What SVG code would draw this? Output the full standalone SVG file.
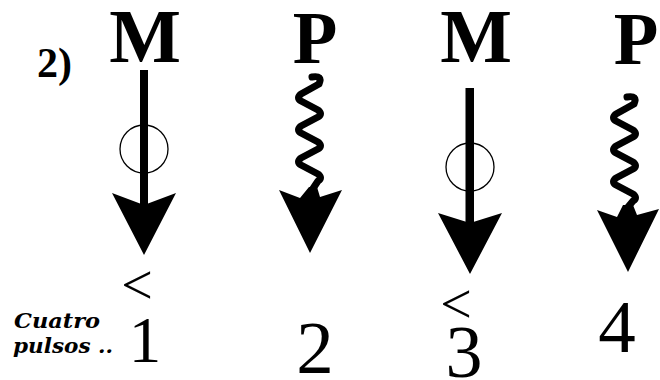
<svg xmlns="http://www.w3.org/2000/svg" width="660" height="380" viewBox="0 0 660 380">
<style>
.lbl{font-weight:bold;fill:#000;text-anchor:middle}
.num{fill:#000;text-anchor:middle}
.note{font-weight:bold;font-style:italic;fill:#000}
.shaft{fill:#000}
.ring{fill:none;stroke:#000;stroke-width:1.3}
.wave{fill:none;stroke:#000;stroke-width:7;stroke-linecap:round;stroke-linejoin:round}
.head{fill:#000}
</style>
<rect width="660" height="380" fill="#fff"/>
<text x="37" y="77" class="lbl" style="text-anchor:start" font-family="Liberation Serif, Times New Roman, serif" font-size="42">2)</text>
<g id="col1">
<text x="145" y="62" class="lbl" font-family="Liberation Serif, Times New Roman, serif" font-size="76">M</text>
</g>
<g id="col2">
<text x="315" y="63" class="lbl" font-family="Liberation Serif, Times New Roman, serif" font-size="73">P</text>
</g>
<g id="col3">
<text x="476" y="62" class="lbl" font-family="Liberation Serif, Times New Roman, serif" font-size="76">M</text>
</g>
<g id="col4">
<text x="636" y="64" class="lbl" font-family="Liberation Serif, Times New Roman, serif" font-size="73">P</text>
</g>
<g id="connectors">
<rect class="shaft" x="140" y="70" width="8" height="137"/>
<circle class="ring" cx="144" cy="149" r="24"/>
<polygon class="head" points="112,193 144,205 176,193 144,255"/>
<rect class="shaft" x="465.5" y="88" width="8.5" height="137"/>
<circle class="ring" cx="470" cy="167" r="24"/>
<polygon class="head" points="438,213 470,223 502,213 470,274"/>
<path class="wave" d="M312,77 Q323,75 319,84 L301,94 Q296,98 301,101 L318,110 Q323,114 318,117 L301,126 Q296,130 301,133 L318,142 Q323,146 318,149 L301,158 Q296,162 301,165 L318,174 Q323,178 318,181 L312,190"/>
<polygon class="head" points="279,190 300,198 309,187 317,187 320,197 342,190 310,253"/>
<path class="wave" d="M627,97 Q638,95 634,104 L616,114 Q611,118 616,121 L633,130 Q638,134 633,137 L616,146 Q611,150 616,153 L633,162 Q638,166 633,169 L616,178 Q611,182 616,185 L633,194 Q638,198 633,201 L628,207"/>
<polygon class="head" points="597,210 617,217 623,205 633,205 637,215 659,209 628,272"/>
</g>
<g id="labels">
<text x="137" y="304" class="num" font-family="Liberation Serif, Times New Roman, serif" font-size="56">&lt;</text>
<text x="145" y="362" class="num" font-family="Liberation Serif, Times New Roman, serif" font-size="65">1</text>
<text x="315" y="373" class="num" font-family="Liberation Serif, Times New Roman, serif" font-size="75">2</text>
<text x="456" y="323" class="num" font-family="Liberation Serif, Times New Roman, serif" font-size="56">&lt;</text>
<text x="464" y="377" class="num" font-family="Liberation Serif, Times New Roman, serif" font-size="74">3</text>
<text x="617" y="352" class="num" font-family="Liberation Serif, Times New Roman, serif" font-size="75">4</text>
<text x="14" y="328" class="note" font-family="DejaVu Serif, Liberation Serif, serif" font-size="21" textLength="86" lengthAdjust="spacingAndGlyphs">Cuatro</text>
<text x="13" y="353" class="note" font-family="DejaVu Serif, Liberation Serif, serif" font-size="21" textLength="100" lengthAdjust="spacingAndGlyphs">pulsos ..</text>
</g>
</svg>
